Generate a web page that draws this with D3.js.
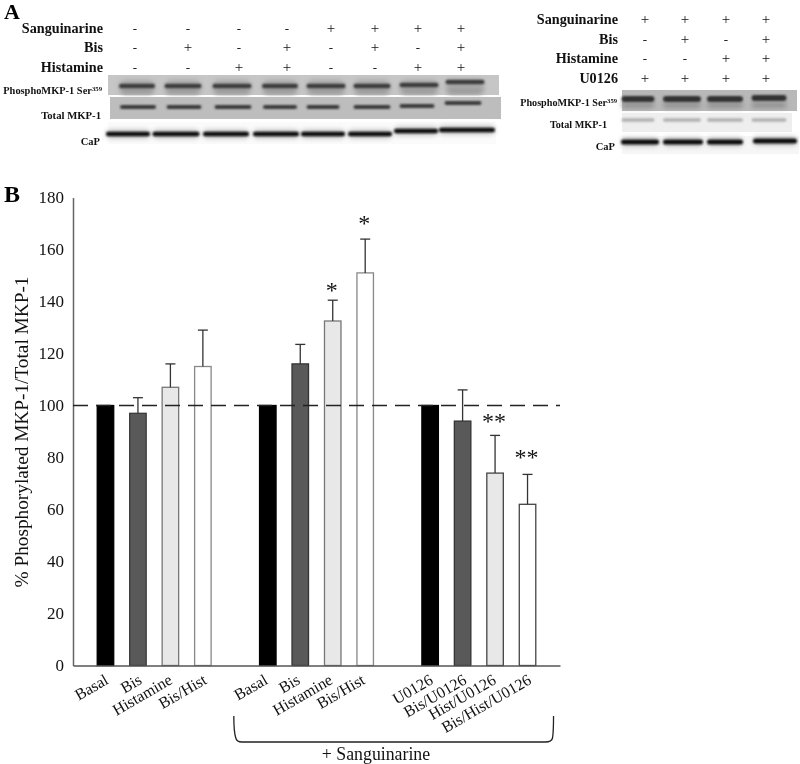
<!DOCTYPE html>
<html><head><meta charset="utf-8">
<script src="https://cdnjs.cloudflare.com/ajax/libs/d3/7.8.5/d3.min.js"></script>
<style>html,body{margin:0;background:#fff}svg{display:block;will-change:transform}text{font-family:"Liberation Serif",serif;fill:#111}</style>
</head><body><div id="c"></div>
<script>
const slots=["s0","a1","a2","a3","a4","g1","b1","b2","b3","b4","g2","c1","c2","c3","c4","s15"];
const barSlots=["a1","a2","a3","a4","b1","b2","b3","b4","c1","c2","c3","c4"];
const barLabels=["Basal","Bis","Histamine","Bis/Hist","Basal","Bis","Histamine","Bis/Hist","U0126","Bis/U0126","Hist/U0126","Bis/Hist/U0126"];
const barValues=[100,97,107,115,100,116,132.5,151,100,94,74,62];
const errorTops=[100,103,116,129,100,123.5,140.5,164,100,106,88.5,73.5];
const barFills=["#000","#595959","#e8e8e8","#fff","#000","#595959","#e8e8e8","#fff","#000","#595959","#e8e8e8","#fff"];
const barStrokes=["#000","#3a3a3a","#777","#888","#000","#333","#777","#888","#000","#333","#444","#444"];
const stars=["","","","","","","*","*","","","**","**"];
const starLevels=[0,0,0,0,0,0,145.6,171.3,0,0,95.2,81.3];
const yTicks=[0,20,40,60,80,100,120,140,160,180];

const leftRowNames=["Sanguinarine","Bis","Histamine"];
const leftRows=[["-","-","-","-","+","+","+","+"],["-","+","-","+","-","+","-","+"],["-","-","+","+","-","-","+","+"]];
const rightRowNames=["Sanguinarine","Bis","Histamine","U0126"];
const rightRows=[["+","+","+","+"],["-","+","-","+"],["-","-","+","+"],["+","+","+","+"]];
const leftLaneShift=[0,0,0,0,0,0,-1,-4];
const leftCapShift=[0,0,0,0,0,0,-3,-4];
const rightShift=[0,0,0,-1];

const W=800,H=764;
const svg=d3.select("#c").append("svg").attr("width",W).attr("height",H);
const defs=svg.append("defs");
[["b1",1.3],["b2",2.5],["b3",1.1]].forEach(([id,s])=>defs.append("filter").attr("id",id).attr("x","-20%").attr("y","-100%").attr("width","140%").attr("height","300%").append("feGaussianBlur").attr("stdDeviation",s));

const x=d3.scalePoint().domain(slots).range([73,560]);
const y=d3.scaleLinear().domain([0,180]).range([665.5,197.5]);

svg.append("text").attr("x",4).attr("y",19).attr("font-size",22).attr("font-weight",700).style("fill","#000").text("A");
svg.append("text").attr("x",4).attr("y",202).attr("font-size",24).attr("font-weight",700).style("fill","#000").text("B");

function marks(names,rows,labelX,rowY,colX,fs){
  const g=svg.append("g");
  names.forEach((n,i)=>{
    g.append("text").attr("x",labelX).attr("y",rowY(i)+4).attr("text-anchor","end").attr("font-size",fs).attr("font-weight",700).text(n);
    rows[i].forEach((v,j)=>g.append("text").attr("x",colX(j)).attr("y",rowY(i)+4).attr("text-anchor","middle").attr("font-size",v==="+"?15:13).text(v));
  });
}
const leftCols=[135,188,239,287,331,375,418,461];
const rightCols=[645,685,726,766];
marks(leftRowNames,leftRows,103,i=>29+i*19.3,j=>leftCols[j],14.2);
marks(rightRowNames,rightRows,618,i=>20+i*19.5,j=>rightCols[j],14.2);

function blotLabel(parts,xr,yy,fs){
  const t=svg.append("text").attr("x",xr).attr("y",yy).attr("text-anchor","end").attr("font-size",fs).attr("font-weight",700).text(parts[0]);
  if(parts[1]) t.append("tspan").attr("dy",-3).attr("font-size",fs*0.65).text(parts[1]);
}
blotLabel(["PhosphoMKP-1 Ser","359"],102,94,10.4);
blotLabel(["Total MKP-1"],101,119,10.7);
blotLabel(["CaP"],100,145,10.5);
blotLabel(["PhosphoMKP-1 Ser","359"],617,106,10.2);
blotLabel(["Total MKP-1"],607,128,10.2);
blotLabel(["CaP"],615,150,10.5);

function panel(x0,y0,w,h,fill){svg.append("rect").attr("x",x0).attr("y",y0).attr("width",w).attr("height",h).attr("fill",fill);}
function bands(centers,widths,yc,h,col,filter,shift){
  svg.append("g").attr("filter",`url(#${filter})`).selectAll("rect").data(centers).join("rect")
   .attr("x",(d,i)=>d-widths[i]/2).attr("y",(d,i)=>yc+(shift?shift[i]:0)-h/2).attr("width",(d,i)=>widths[i]).attr("height",h).attr("rx",h/2).attr("fill",col);
}
const lPh=[137,183,232,280,326,372,419,465], lW=[36,37,39,36,39,37,39,39];
const lTot=[138,184,233,280,323,372,417,463], lTotW=[36,35,37,34,33,37,35,37];
const lCap=[128,176,226,276,323,370,416,467], lCapW=[44,47,46,46,44,44,44,56];
panel(108,75,391,20,"#c6c6c6");
bands(lPh,lW,87,14,"#a8a8a8","b2");
bands(lPh,lW.map(d=>d-4),91.5,3,"#8f8f8f","b2");
bands(lPh,lW,86,4.5,"#3a3a3a","b3",leftLaneShift);
panel(110,97,391,22,"#bdbdbd");
bands(lTot,lTotW,107,4,"#3a3a3a","b3",leftLaneShift);
panel(108,122,388,22,"#fbfbfb");
bands(lCap,lCapW,134,9,"#c4c4c4","b2",leftCapShift);
bands(lCap,lCapW,134,4.5,"#0b0b0b","b3",leftCapShift);

const rPh=[638,682,725,769], rW=[33,38,36,35];
const rCap=[640,683,725,775], rCapW=[38,40,36,44];
panel(622,90,175,21,"#b8b8b8");
bands(rPh,rW,105,5,"#8a8a8a","b2");
bands(rPh,rW,99,6,"#333","b3",rightShift);
panel(622,113,170,19,"#eeeeee");
bands(rPh,rW,120,3.5,"#b0b0b0","b3");
panel(622,136,177,18,"#f6f6f6");
bands(rCap,rCapW,142,9,"#c4c4c4","b2",rightShift);
bands(rCap,rCapW,142,5,"#111","b3",rightShift);

const yAxis=d3.axisLeft(y).tickValues(yTicks).tickSize(0).tickPadding(9);
const gy=svg.append("g").attr("transform","translate(73,0)").call(yAxis);
gy.select(".domain").attr("stroke","#666").attr("stroke-width",1.5);
gy.selectAll("text").attr("font-size",17).style("font-family",'"Liberation Serif",serif').attr("dy","0.32em");
svg.append("text").attr("transform","translate(28,432) rotate(-90)").attr("text-anchor","middle").attr("font-size",19.3).text("% Phosphorylated MKP-1/Total MKP-1");

const bw=16.5;
const chart=svg.append("g");
chart.selectAll("rect.bar").data(barValues).join("rect").attr("class","bar")
 .attr("x",(d,i)=>x(barSlots[i])-bw/2).attr("width",bw).attr("y",d=>y(d)).attr("height",d=>y(0)-y(d))
 .attr("fill",(d,i)=>barFills[i]).attr("stroke",(d,i)=>barStrokes[i]).attr("stroke-width",1.3);
const eb=chart.append("g").attr("stroke","#333").attr("stroke-width",1.3);
barValues.forEach((v,i)=>{
  if(errorTops[i]<=v)return;
  const cx=x(barSlots[i]);
  eb.append("line").attr("x1",cx).attr("x2",cx).attr("y1",y(v)).attr("y2",y(errorTops[i]));
  eb.append("line").attr("x1",cx-5).attr("x2",cx+5).attr("y1",y(errorTops[i])).attr("y2",y(errorTops[i]));
});
svg.append("line").attr("x1",73).attr("x2",560).attr("y1",y(100)).attr("y2",y(100)).attr("stroke","#222").attr("stroke-width",1.4).attr("stroke-dasharray","15 8");
const xAxisG=svg.append("g").attr("transform",`translate(0,${y(0)})`).call(d3.axisBottom(x).tickValues([]).tickSize(0));
xAxisG.select(".domain").attr("stroke","#555").attr("stroke-width",1.5);

stars.forEach((s,i)=>{ if(!s)return;
  svg.append("text").attr("x",x(barSlots[i])-1).attr("y",y(starLevels[i])).attr("dy","0.45em")
   .attr("text-anchor","middle").attr("font-size",24).text(s);
});
const labelDx=[4,5,3,5,1,1,1,1,4,5,2,5];
svg.append("g").selectAll("text").data(barLabels).join("text")
 .attr("transform",(d,i)=>`translate(${x(barSlots[i])+labelDx[i]},683) rotate(-30)`)
 .attr("text-anchor","end").attr("font-size",16).text(d=>d);

const bx0=x("b1")-34,bx1=x("c4")+26;
svg.append("path").attr("fill","none").attr("stroke","#222").attr("stroke-width",1.3)
 .attr("d",`M${bx0},716 Q${bx0},732 ${bx0+2},738 Q${bx0+3},742 ${bx0+8},742 L${bx1-8},742 Q${bx1-2},742 ${bx1-1},738 Q${bx1},732 ${bx1},716`);
svg.append("text").attr("x",376).attr("y",760).attr("text-anchor","middle").attr("font-size",17.8).text("+ Sanguinarine");
</script></body></html>
